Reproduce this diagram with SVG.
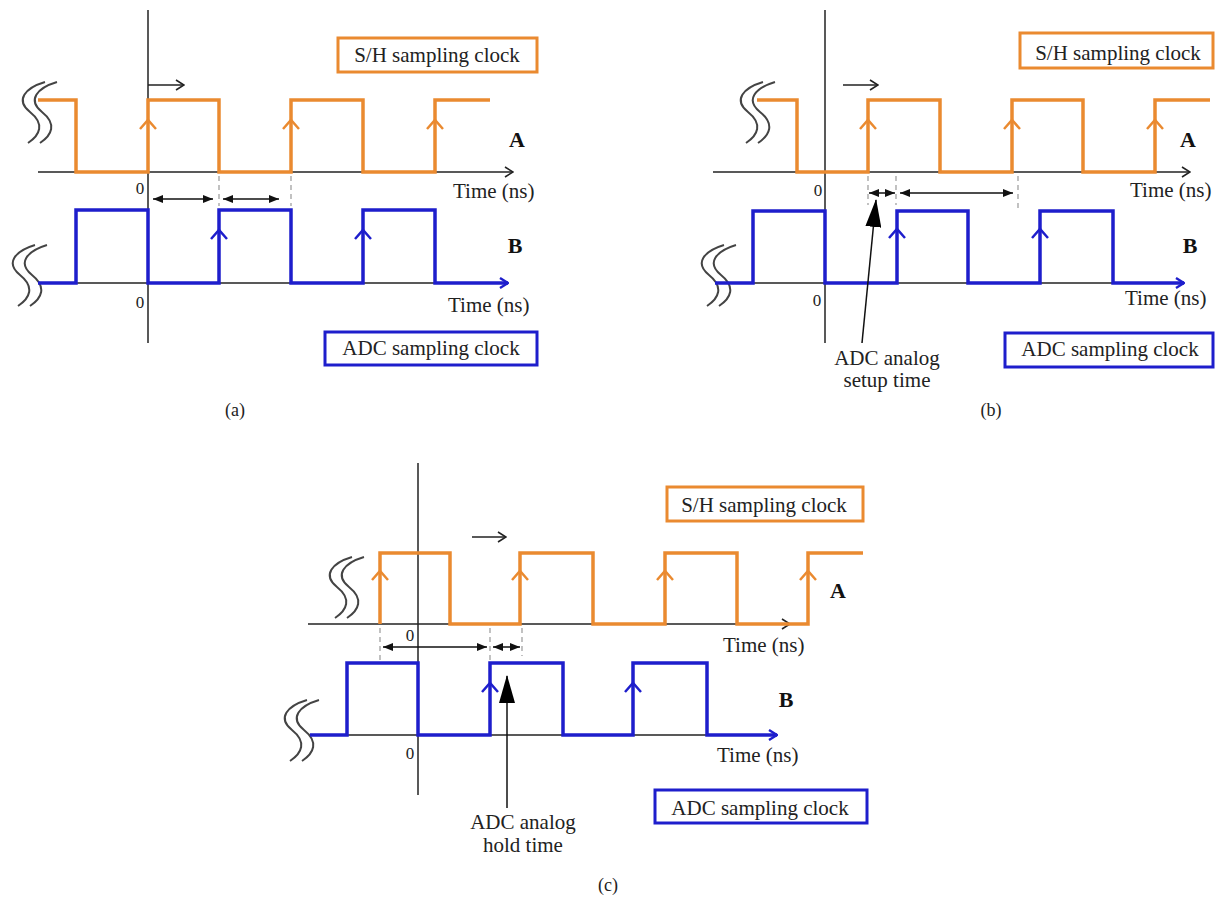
<svg xmlns="http://www.w3.org/2000/svg" width="1215" height="923" viewBox="0 0 1215 923">
<style>
text{font-family:"Liberation Serif","Times New Roman",serif;fill:#222}
.t{font-size:21px}
.z{font-size:17px}
.lab{font-size:22px;font-weight:bold;fill:#111}
.cap{font-size:18px}
.ax{stroke:#222;stroke-width:1.5;fill:none}
.or{stroke:#EA8A30;stroke-width:3.5;fill:none;stroke-linejoin:miter}
.bl{stroke:#1E1ECC;stroke-width:3.5;fill:none;stroke-linejoin:miter}
.chO{stroke:#EA8A30;stroke-width:2.5;fill:none}
.chB{stroke:#1E1ECC;stroke-width:2.5;fill:none}
.dash{stroke:#999;stroke-width:1.2;stroke-dasharray:5 4;fill:none}
.dim{stroke:#111;stroke-width:1.5;fill:none;marker-start:url(#tri);marker-end:url(#tri)}
.boxO{fill:#fff;stroke:#EA8A30;stroke-width:3}
.boxB{fill:#fff;stroke:#1E1ECC;stroke-width:3}
.sq{stroke:#444;stroke-width:2;fill:none}
.ann{stroke:#111;stroke-width:1.5;fill:none;marker-end:url(#big)}
.sh{stroke:#222;stroke-width:1.5;fill:none;marker-end:url(#chevK)}
</style>
<defs>
<marker id="chevK" viewBox="0 0 10 12" refX="9" refY="6" markerWidth="10" markerHeight="12" markerUnits="userSpaceOnUse" orient="auto"><path d="M1,1 L9,6 L1,11" fill="none" stroke="#222" stroke-width="1.6"/></marker>
<marker id="chevB" viewBox="0 0 10 12" refX="9" refY="6" markerWidth="10" markerHeight="12" markerUnits="userSpaceOnUse" orient="auto"><path d="M1,1 L9,6 L1,11" fill="none" stroke="#1E1ECC" stroke-width="2.4"/></marker>
<marker id="tri" viewBox="0 0 10 8" refX="10" refY="4" markerWidth="10" markerHeight="8" markerUnits="userSpaceOnUse" orient="auto-start-reverse"><path d="M0,0 L10,4 L0,8 Z" fill="#111"/></marker>
<marker id="big" viewBox="0 0 28 16" refX="27" refY="8" markerWidth="28" markerHeight="16" markerUnits="userSpaceOnUse" orient="auto"><path d="M0,0 L28,8 L0,16 Z" fill="#000"/></marker>
<g id="squig"><path class="sq" d="M27,0 C7,6 -3,18 12,30 C27,42 22,53 10,61"/><path class="sq" d="M39,0 C19,6 9,18 24,30 C39,42 34,53 22,61"/></g>
</defs>
<rect width="1215" height="923" fill="#fff"/>

<!-- Panel (a) -->
<g id="panel-a">
<line class="ax" x1="148" y1="10" x2="148" y2="343"/>
<line class="ax" x1="38" y1="172" x2="513" y2="172" marker-end="url(#chevK)"/>
<line class="ax" x1="38" y1="283" x2="508" y2="283"/>
<use href="#squig" x="18" y="82"/>
<use href="#squig" x="8" y="245"/>
<polyline class="or" points="38,100 76,100 76,172 148,172 148,100 219,100 219,172 291,172 291,100 363,100 363,172 435,172 435,100 490,100"/>
<polyline class="bl" points="38,283 76,283 76,210 148,210 148,283 219,283 219,210 291,210 291,283 363,283 363,210 435,210 435,283 508,283" marker-end="url(#chevB)"/>
<polyline class="chO" points="140,129 148,120 156,129"/>
<polyline class="chO" points="283,129 291,120 299,129"/>
<polyline class="chO" points="427,129 435,120 443,129"/>
<polyline class="chB" points="211,239 219,230 227,239"/>
<polyline class="chB" points="355,239 363,230 371,239"/>
<line class="dash" x1="219" y1="176" x2="219" y2="206"/>
<line class="dash" x1="291" y1="176" x2="291" y2="206"/>
<text class="z" x="140" y="194" text-anchor="middle">0</text>
<text class="z" x="140" y="308" text-anchor="middle">0</text>
<text class="t" x="453" y="198">Time (ns)</text>
<text class="t" x="448" y="312">Time (ns)</text>
<text class="lab" x="517" y="147" text-anchor="middle">A</text>
<text class="lab" x="515" y="253" text-anchor="middle">B</text>
<g id="a-sh-box"><rect class="boxO" x="338" y="38" width="199" height="34"/><text class="t" x="437" y="62" text-anchor="middle">S/H sampling clock</text></g>
<g id="a-adc-box"><rect class="boxB" x="325" y="332" width="212" height="33"/><text class="t" x="431" y="355" text-anchor="middle">ADC sampling clock</text></g>
<text class="cap" x="235" y="416" text-anchor="middle">(a)</text>
</g>

<!-- Panel (b) -->
<g id="panel-b">
<line class="ax" x1="825" y1="10" x2="825" y2="343"/>
<line class="ax" x1="713" y1="172" x2="1190" y2="172" marker-end="url(#chevK)"/>
<line class="ax" x1="715" y1="283" x2="1183" y2="283"/>
<use href="#squig" x="736" y="82"/>
<use href="#squig" x="697" y="245"/>
<polyline class="or" points="757,100 797,100 797,172 868,172 868,100 940,100 940,172 1012,172 1012,100 1083,100 1083,172 1155,172 1155,100 1210,100"/>
<polyline class="bl" points="715,283 753,283 753,211 825,211 825,283 897,283 897,211 968,211 968,283 1040,283 1040,211 1113,211 1113,283 1184,283" marker-end="url(#chevB)"/>
<polyline class="chO" points="860,129 868,120 876,129"/>
<polyline class="chO" points="1004,129 1012,120 1020,129"/>
<polyline class="chO" points="1147,129 1155,120 1163,129"/>
<polyline class="chB" points="889,238 897,229 905,238"/>
<polyline class="chB" points="1032,238 1040,229 1048,238"/>
<line class="dash" x1="868" y1="176" x2="868" y2="205"/>
<line class="dash" x1="896" y1="176" x2="896" y2="205"/>
<line class="dash" x1="1018" y1="176" x2="1018" y2="210"/>
<text class="z" x="818" y="196" text-anchor="middle">0</text>
<text class="z" x="817" y="306" text-anchor="middle">0</text>
<text class="t" x="1130" y="197">Time (ns)</text>
<text class="t" x="1125" y="305">Time (ns)</text>
<text class="lab" x="1188" y="147" text-anchor="middle">A</text>
<text class="lab" x="1190" y="253" text-anchor="middle">B</text>
<g id="b-sh-box"><rect class="boxO" x="1020" y="33" width="193" height="35"/><text class="t" x="1118" y="60" text-anchor="middle">S/H sampling clock</text></g>
<g id="b-adc-box"><rect class="boxB" x="1005" y="333" width="208" height="34"/><text class="t" x="1110" y="356" text-anchor="middle">ADC sampling clock</text></g>
<g id="b-note"><text class="t" x="887" y="365" text-anchor="middle">ADC analog</text><text class="t" x="887" y="387" text-anchor="middle">setup time</text></g>
<text class="cap" x="991" y="416" text-anchor="middle">(b)</text>
</g>

<!-- Panel (c) -->
<g id="panel-c">
<line class="ax" x1="418" y1="463" x2="418" y2="795"/>
<line class="ax" x1="308" y1="624" x2="790" y2="624" marker-end="url(#chevK)"/>
<line class="ax" x1="310" y1="735" x2="776" y2="735"/>
<use href="#squig" x="325" y="557"/>
<use href="#squig" x="280" y="700"/>
<polyline class="or" points="380,624 380,553 450,553 450,624 520,624 520,553 593,553 593,624 665,624 665,553 737,553 737,624 808,624 808,553 863,553"/>
<polyline class="bl" points="310,735 347,735 347,663 418,663 418,735 490,735 490,663 563,663 563,735 633,735 633,663 707,663 707,735 777,735" marker-end="url(#chevB)"/>
<polyline class="chO" points="372,580 380,571 388,580"/>
<polyline class="chO" points="512,580 520,571 528,580"/>
<polyline class="chO" points="657,580 665,571 673,580"/>
<polyline class="chO" points="800,580 808,571 816,580"/>
<polyline class="chB" points="482,692 490,683 498,692"/>
<polyline class="chB" points="625,692 633,683 641,692"/>
<line class="dash" x1="380" y1="628" x2="380" y2="660"/>
<line class="dash" x1="490" y1="628" x2="490" y2="660"/>
<line class="dash" x1="522" y1="628" x2="522" y2="656"/>
<text class="z" x="410" y="641" text-anchor="middle">0</text>
<text class="z" x="410" y="759" text-anchor="middle">0</text>
<text class="t" x="723" y="652">Time (ns)</text>
<text class="t" x="717" y="762">Time (ns)</text>
<text class="lab" x="838" y="598" text-anchor="middle">A</text>
<text class="lab" x="786" y="707" text-anchor="middle">B</text>
<g id="c-sh-box"><rect class="boxO" x="667" y="487" width="196" height="34"/><text class="t" x="764" y="512" text-anchor="middle">S/H sampling clock</text></g>
<g id="c-adc-box"><rect class="boxB" x="655" y="790" width="212" height="33"/><text class="t" x="760" y="815" text-anchor="middle">ADC sampling clock</text></g>
<g id="c-note"><text class="t" x="523" y="829" text-anchor="middle">ADC analog</text><text class="t" x="523" y="852" text-anchor="middle">hold time</text></g>
<text class="cap" x="608" y="891" text-anchor="middle">(c)</text>
</g>

<!-- Connectors -->
<g id="connectors">
<line class="sh" x1="148" y1="85" x2="184" y2="85"/>
<line class="sh" x1="843" y1="85" x2="878" y2="85"/>
<line class="sh" x1="472" y1="537" x2="506" y2="537"/>
<line class="dim" x1="153" y1="199" x2="213" y2="199"/>
<line class="dim" x1="223" y1="199" x2="279" y2="199"/>
<line class="dim" x1="869" y1="193" x2="895" y2="193"/>
<line class="dim" x1="900" y1="193" x2="1013" y2="193"/>
<line class="dim" x1="383" y1="647" x2="487" y2="647"/>
<line class="dim" x1="493" y1="647" x2="520" y2="647"/>
<line class="ann" x1="862" y1="343" x2="876" y2="200"/>
<line class="ann" x1="507" y1="808" x2="507" y2="676"/>
</g>
</svg>
